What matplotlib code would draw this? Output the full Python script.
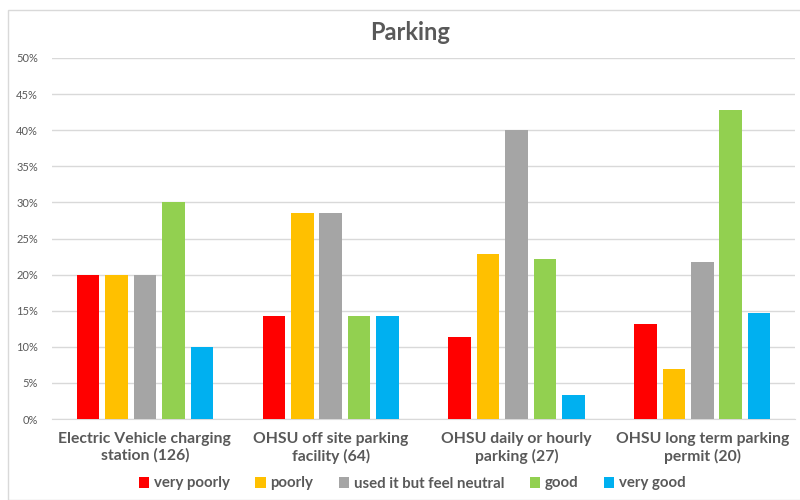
import numpy as np
import matplotlib.pyplot as plt
from matplotlib.patches import Rectangle
from matplotlib.ticker import PercentFormatter

plt.rcParams['font.family'] = ['Lato', 'DejaVu Sans']

categories = ['Electric Vehicle charging\nstation (126)',
              'OHSU off site parking\nfacility (64)',
              'OHSU daily or hourly\nparking (27)',
              'OHSU long term parking\npermit (20)']
series = ['very poorly', 'poorly', 'used it but feel neutral', 'good', 'very good']
colors = ['#FF0000', '#FFC000', '#A5A5A5', '#92D050', '#00B0F0']

very_poorly = [20.0, 14.3, 11.3, 13.2]
poorly = [20.0, 28.6, 22.8, 6.9]
neutral = [20.0, 28.6, 40.0, 21.8]
good = [30.0, 14.3, 22.2, 42.8]
very_good = [10.0, 14.3, 3.3, 14.7]
values = [very_poorly, poorly, neutral, good, very_good]

fig = plt.figure(figsize=(8, 5), dpi=100)
fig.patches.append(Rectangle((8/800, 0), 1, 1 - 10/500, transform=fig.transFigure,
                             fill=False, edgecolor='#D9D9D9', linewidth=1))
ax = fig.add_axes([0.065, 0.162, 0.929, 0.722])

x = np.arange(len(categories))
pitch = 0.153
width = 0.121
for i, (name, vals) in enumerate(zip(series, values)):
    ax.bar(x + (i - 2) * pitch, vals, width, color=colors[i], label=name, zorder=3)

ax.set_xlim(-0.5, 3.5)
ax.set_ylim(0, 50)
ax.set_yticks(np.arange(0, 51, 5))
ax.yaxis.set_major_formatter(PercentFormatter(decimals=0))
ax.grid(axis='y', color='#D9D9D9', linewidth=1, zorder=0)
for s in ['top', 'right', 'left']:
    ax.spines[s].set_visible(False)
ax.spines['bottom'].set_color('#D9D9D9')
ax.tick_params(axis='y', length=0, labelsize=8, labelcolor='#595959', pad=10)
ax.tick_params(axis='x', length=0, pad=9)
ax.set_xticks(x)
ax.set_xticklabels(categories, fontsize=11.3, fontweight='bold', color='#595959',
                   linespacing=1.25)

fig.text(0.512, 0.935, 'Parking', ha='center', va='center', fontsize=17,
         fontweight='bold', color='#595959')

leg = fig.legend(loc='center', bbox_to_anchor=(0.515, 0.033), ncol=5, frameon=False,
                 handlelength=0.7, handleheight=0.7, handletextpad=0.3, columnspacing=1.7,
                 prop={'size': 10.8, 'weight': 'bold'})
for t in leg.get_texts():
    t.set_color('#595959')

plt.savefig('out.png')
